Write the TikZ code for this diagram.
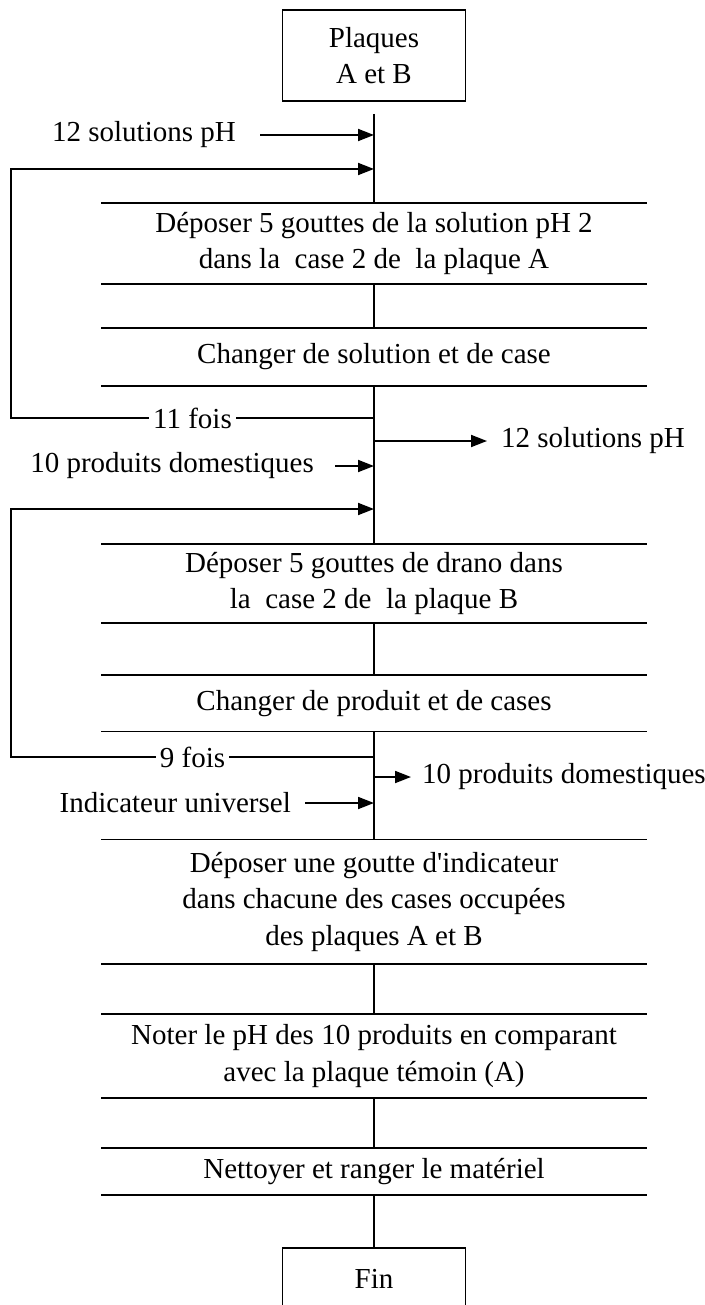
\documentclass[tikz,border=0pt]{standalone}
\usepackage{fontspec}
\setmainfont{Liberation Serif}
\usepackage{tikz}
\usetikzlibrary{arrows.meta,positioning}

\begin{document}
\begin{tikzpicture}[
  x=1pt, y=-1pt,
  font=\fontsize{29}{36.5}\selectfont,
  ln/.style={line width=1.8pt, black},
  arr/.style={ln, -{Triangle[length=16pt, width=12pt]}},
  termbox/.style={rectangle, draw, line width=1.8pt, minimum width=183pt, align=center, inner sep=0pt},
  stepbox/.style={rectangle, minimum width=545pt, align=center, inner sep=0pt},
  lbl/.style={inner sep=0pt},
  rep/.style={fill=white, inner xsep=4pt, inner ysep=0pt}
]
\useasboundingbox (0,0) rectangle (704,1305);
\node[termbox, minimum height=91pt] (start) at (374,55.5) {Plaques\\A et B};
\node[stepbox, minimum height=81pt, below=101pt of start] (s1) {D\'eposer 5 gouttes de la solution pH 2\\dans la~ case 2 de~ la plaque A};
\node[stepbox, minimum height=57pt, below=44pt of s1] (s2) {Changer de solution et de case};
\node[stepbox, minimum height=79pt, below=158pt of s2] (s3) {D\'eposer 5 gouttes de drano dans\\la~ case 2 de~ la plaque B};
\node[stepbox, minimum height=56pt, below=52pt of s3] (s4) {Changer de produit et de cases};
\node[stepbox, minimum height=124pt, below=108pt of s4] (s5) {D\'eposer une goutte d\textquotesingle indicateur\\dans chacune des cases occup\'ees\\des plaques A et B};
\node[stepbox, minimum height=84pt, below=50pt of s5] (s6) {Noter le pH des 10 produits en comparant\\avec la plaque t\'emoin (A)};
\node[stepbox, minimum height=46pt, below=50pt of s6] (s7) {Nettoyer et ranger le mat\'eriel};
\node[termbox, minimum height=63pt, below=52pt of s7] (fin) {Fin};

% open boxes: only top and bottom rules
\foreach \s in {s1,s2,s3,s4,s5,s6,s7}
  \draw[ln] (\s.north west) -- (\s.north east) (\s.south west) -- (\s.south east);

% main line
\draw[ln, shorten <=12pt] (start) -- (s1);
\draw[ln] (s1) -- (s2);
\draw[ln] (s2) -- (s3);
\draw[ln] (s3) -- (s4);
\draw[ln] (s4) -- (s5);
\draw[ln] (s5) -- (s6);
\draw[ln] (s6) -- (s7);
\draw[ln] (s7) -- (fin);

% points on the main line
\coordinate (edge) at (11,0);
\coordinate (j1) at (374,135);
\coordinate (r1) at (374,169);
\coordinate (b1) at (374,418);
\coordinate (o1) at (374,441);
\coordinate (j2) at (374,466);
\coordinate (r2) at (374,509);
\coordinate (b2) at (374,757);
\coordinate (o2) at (374,777);
\coordinate (j3) at (374,803);

% inputs
\coordinate (a1) at (260,135);
\coordinate (a2) at (335,466);
\coordinate (a3) at (305,803);
\node[lbl, left=24pt of a1] (in1) {12 solutions pH};
\node[lbl, left=21pt of a2] (in2) {10 produits domestiques};
\node[lbl, left=14pt of a3] (in3) {Indicateur universel};
\draw[arr] (a1) -- (j1);
\draw[arr] (a2) -- (j2);
\draw[arr] (a3) -- (j3);

% outputs
\coordinate (e1) at (487,441);
\coordinate (e2) at (411,777);
\node[lbl, right=14pt of e1] (out1) {12 solutions pH};
\node[lbl, right=11pt of e2] (out2) {10 produits domestiques};
\draw[arr] (o1) -- (e1);
\draw[arr] (o2) -- (e2);

% loops
\draw[arr] (b1) -- node[rep] (n1) {11 fois} (b1 -| edge) |- (r1);
\draw[arr] (b2) -- node[rep] (n2) {9 fois} (b2 -| edge) |- (r2);
\end{tikzpicture}
\end{document}
